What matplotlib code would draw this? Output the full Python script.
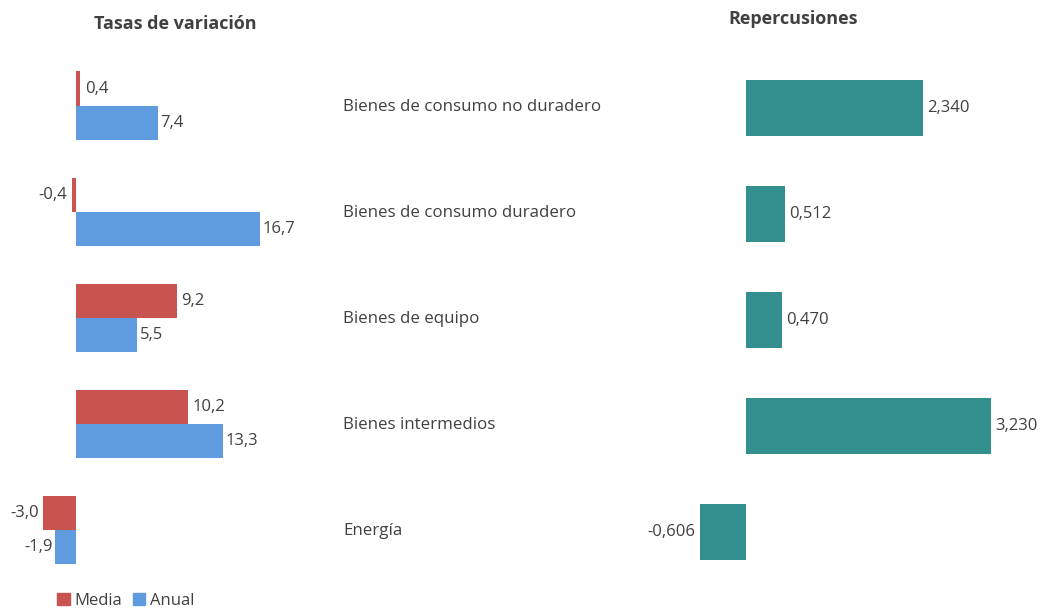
import matplotlib.pyplot as plt
import numpy as np

plt.rcParams['font.family'] = ['Open Sans', 'DejaVu Sans']

categorias = ["Bienes de consumo no duradero", "Bienes de consumo duradero",
              "Bienes de equipo", "Bienes intermedios", "Energía"]
media = [0.4, -0.4, 9.2, 10.2, -3.0]
anual = [7.4, 16.7, 5.5, 13.3, -1.9]
repercusiones = [2.340, 0.512, 0.470, 3.230, -0.606]

c_media = "#C9534F"
c_anual = "#5E9BDF"
c_rep = "#338E8E"
c_text = "#404040"

fig = plt.figure(figsize=(10.43, 6.1), dpi=100)

y = np.arange(len(categorias))
h = 0.325


def etiqueta(ax, v, yy, fmt, off):
    ax.annotate(fmt.format(v).replace(".", ","), (v, yy),
                xytext=(off if v >= 0 else -off, 0), textcoords="offset points",
                va="center", ha="left" if v >= 0 else "right",
                fontsize=12, color=c_text)


# left panel: variation rates
ax1 = fig.add_axes([0.0307, 0.0443, 0.2535, 0.8689])
ax1.barh(y - h / 2, media, height=h, color=c_media)
ax1.barh(y + h / 2, anual, height=h, color=c_anual)
ax1.set_xlim(-4, 20)
ax1.set_ylim(4.5, -0.5)
ax1.axis("off")
for yy, v in zip(y - h / 2, media):
    etiqueta(ax1, v, yy, "{:.1f}", 3)
for yy, v in zip(y + h / 2, anual):
    etiqueta(ax1, v, yy, "{:.1f}", 2)

# right panel: repercussions
ax2 = fig.add_axes([0.6424, 0.0410, 0.3346, 0.8689])
ax2.barh(y, repercusiones, height=0.53, color=c_rep)
ax2.set_xlim(-1, 3.6)
ax2.set_ylim(4.5, -0.5)
ax2.axis("off")
for yy, v in zip(y, repercusiones):
    etiqueta(ax2, v, yy, "{:.3f}", 3)

# category names in the middle
for yy, name in zip(y, categorias):
    fig.text(343 / 1043, 1 - (107 + yy * 106) / 610, name, ha="left", va="center",
             fontsize=12.2, color=c_text)

fig.text(175 / 1043, 1 - 24 / 610, "Tasas de variación", ha="center", va="center",
         fontsize=13, fontweight="bold", color=c_text)
fig.text(793 / 1043, 1 - 19 / 610, "Repercusiones", ha="center", va="center",
         fontsize=13, fontweight="bold", color=c_text)

# legend
fig.legend(handles=[plt.Rectangle((0, 0), 1, 1, color=c_media),
                    plt.Rectangle((0, 0), 1, 1, color=c_anual)],
           labels=["Media", "Anual"], loc="center left",
           bbox_to_anchor=(49 / 1043, 1 - 601 / 610), ncol=2, frameon=False,
           fontsize=12, handlelength=0.75, handleheight=0.75, handletextpad=0.3,
           columnspacing=0.6, borderpad=0, labelcolor=c_text)

fig.savefig("out.png", dpi=100)
